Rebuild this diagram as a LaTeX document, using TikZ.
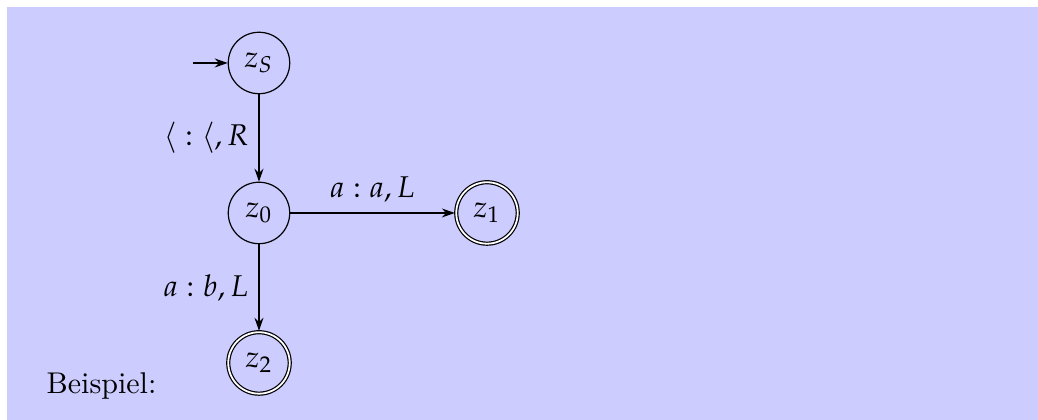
\documentclass[tikz,border=0pt]{standalone}
\usepackage{mathpazo}
\usetikzlibrary{positioning,automata,arrows.meta}
\definecolor{block}{HTML}{CCCCFF}

\begin{document}
\begin{tikzpicture}[>={Stealth[length=4.3pt,width=3pt]},
  node distance=1.757cm and 2.671cm,on grid,
  every state/.style={draw,minimum size=.72cm,inner sep=0pt},
  initial text=,initial distance=.41cm]
  \useasboundingbox (-3.034,-2.425) rectangle (9.126,2.495);
  \fill[block] (-2.952,-2.425) rectangle (9.126,2.413);
  \node[state] (z0) at (0,0) {$z_0$};
  \node[state,initial] (zs) [above=of z0] {$z_S$};
  \node[state,accepting] (z1) [right=of z0] {$z_1$};
  \node[state,accepting] (z2) [below=of z0] {$z_2$};
  \node[anchor=base west,inner sep=0pt] (bsp) at (-2.495,-2.12) {Beispiel:};
  \draw[->] (zs) -- node[left] {${\langle}:{\langle},R$} (z0);
  \draw[->] (z0) -- node[above] {$a:a,L$} (z1);
  \draw[->] (z0) -- node[left] {$a:b,L$} (z2);
\end{tikzpicture}
\end{document}
